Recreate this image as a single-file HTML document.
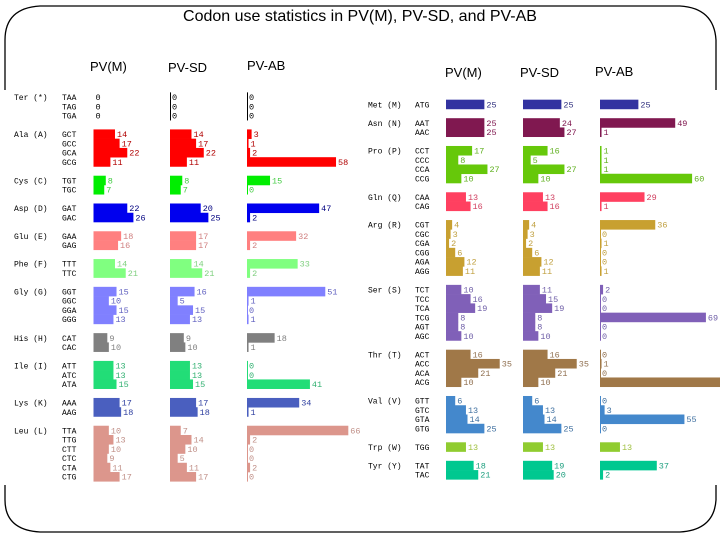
<!DOCTYPE html>
<html><head><meta charset="utf-8"><style>
html,body{margin:0;padding:0;background:#fff;}
svg{display:block;}
text{font-family:"Liberation Mono","DejaVu Sans Mono",monospace;}
text.hdr{font-family:"Liberation Sans",sans-serif;font-size:13px;}
</style></head><body>
<svg id="chart" width="720" height="540" viewBox="0 0 720 540">
<path d="M5,40 Q5,8 40,6 L680,6 Q714,8 716,40 L716,500 Q714,530 680,532 L40,532 Q5,530 5,500 Z" fill="none" stroke="#000" stroke-width="1.3"/>
<rect x="0" y="90" width="720" height="395" fill="#fff"/>
<text x="360" y="21" text-anchor="middle" font-size="16" style="font-family:'Liberation Sans',sans-serif">Codon use statistics in PV(M), PV-SD, and PV-AB</text>
<text class="hdr" x="90" y="71">PV(M)</text>
<text class="hdr" x="168" y="72">PV-SD</text>
<text class="hdr" x="247" y="70">PV-AB</text>
<text class="hdr" x="445" y="77">PV(M)</text>
<text class="hdr" x="520" y="77">PV-SD</text>
<text class="hdr" x="595" y="76">PV-AB</text>
<g id="marks"></g>
</svg>
<script>
// Left panel
const leftAminoAcids = ["Ter (*)","Ala (A)","Cys (C)","Asp (D)","Glu (E)","Phe (F)","Gly (G)","His (H)","Ile (I)","Lys (K)","Leu (L)"];
const leftCodons = [["TAA","TAG","TGA"],["GCT","GCC","GCA","GCG"],["TGT","TGC"],["GAT","GAC"],["GAA","GAG"],["TTT","TTC"],["GGT","GGC","GGA","GGG"],["CAT","CAC"],["ATT","ATC","ATA"],["AAA","AAG"],["TTA","TTG","CTT","CTC","CTA","CTG"]];
const leftPVM = [[0,0,0],[14,17,22,11],[8,7],[22,26],[18,16],[14,21],[15,10,15,13],[9,10],[13,13,15],[17,18],[10,13,10,9,11,17]];
const leftPVSD = [[0,0,0],[14,17,22,11],[8,7],[20,25],[17,17],[14,21],[16,5,15,13],[9,10],[13,13,15],[17,18],[7,14,10,5,11,17]];
const leftPVAB = [[0,0,0],[3,1,2,58],[15,0],[47,2],[32,2],[33,2],[51,1,0,1],[18,1],[0,0,41],[34,1],[66,2,0,0,2,0]];
const leftColors = ["#000000","#ff0000","#00ee00","#0000ee","#ff8080","#80ff80","#8080ff","#808080","#22dd77","#4a5fbf","#dc968c"];
const leftTextColors = ["#000000","#b00000","#44cc44","#000080","#d08080","#80d080","#6060c0","#808080","#30b070","#3040a0","#c09088"];
// Right panel
const rightAminoAcids = ["Met (M)","Asn (N)","Pro (P)","Gln (Q)","Arg (R)","Ser (S)","Thr (T)","Val (V)","Trp (W)","Tyr (Y)"];
const rightCodons = [["ATG"],["AAT","AAC"],["CCT","CCC","CCA","CCG"],["CAA","CAG"],["CGT","CGC","CGA","CGG","AGA","AGG"],["TCT","TCC","TCA","TCG","AGT","AGC"],["ACT","ACC","ACA","ACG"],["GTT","GTC","GTA","GTG"],["TGG"],["TAT","TAC"]];
const rightPVM = [[25],[25,25],[17,8,27,10],[13,16],[4,3,2,6,12,11],[10,16,19,8,8,10],[16,35,21,10],[6,13,14,25],[13],[18,21]];
const rightPVSD = [[25],[24,27],[16,5,27,10],[13,16],[4,3,2,6,12,11],[11,15,19,8,8,10],[16,35,21,10],[6,13,14,25],[13],[19,20]];
const rightPVAB = [[25],[49,1],[1,1,1,60],[29,1],[36,0,1,0,0,1],[2,0,0,69,0,0],[0,1,0,82],[0,3,55,0],[13],[37,2]];
const rightColors = ["#3333a0","#801850","#66c80a","#ff4060","#c8a030","#8060b8","#a07848","#4488cc","#90cc30","#00c890"];
const rightTextColors = ["#333380","#801850","#60b020","#d04060","#c0a040","#7060a8","#907050","#4070a0","#a0c040","#20a080"];

const NS="http://www.w3.org/2000/svg";
const marks=document.getElementById('marks');
const scale=1.535, step=9.26;
function xPos(x0,v){return x0+v*scale;}
function yPos(y0,i){return y0+i*step;}
function mk(tag,attrs){const e=document.createElementNS(NS,tag);for(const k in attrs)e.setAttribute(k,attrs[k]);marks.appendChild(e);return e;}

function panel(side,aas,codons,series,colors,tcolors,y0,aaX,codX,colX){
  let idx=0;
  aas.forEach((aa,g)=>{
    const t=mk('text',{x:aaX,y:yPos(y0,idx)+3,'font-size':8});
    
    
    t.textContent=aa;
    codons[g].forEach((c,k)=>{
      const yc=yPos(y0,idx+k);
      const ct=mk('text',{x:codX,y:yc+3,'font-size':8});
      
      
      ct.textContent=c;
      series.forEach((s,si)=>{
        const v=s[g][k];
        const x0=colX[si];
        const w=Math.max(v*scale,1);
        const isTerM=(side==='left'&&g===0&&si===0);
        if(!isTerM){
          const r=mk('rect',{x:x0,y:yc-step/2,width:Math.min(w,720-x0),height:step+0.3,fill:colors[g]});
          
          
        }
        const vt=mk('text',{x:xPos(x0,v)+2,y:yc+3,'font-size':8.5,fill:tcolors[g]});
        
        
        vt.textContent=String(v);
      });
    });
    idx+=codons[g].length+1;
  });
}
panel('left',leftAminoAcids,leftCodons,[leftPVM,leftPVSD,leftPVAB],leftColors,leftTextColors,97,14,62,[93.5,170,247]);
panel('right',rightAminoAcids,rightCodons,[rightPVM,rightPVSD,rightPVAB],rightColors,rightTextColors,104.3,368,415,[446,523,600]);
</script>
</body></html>
